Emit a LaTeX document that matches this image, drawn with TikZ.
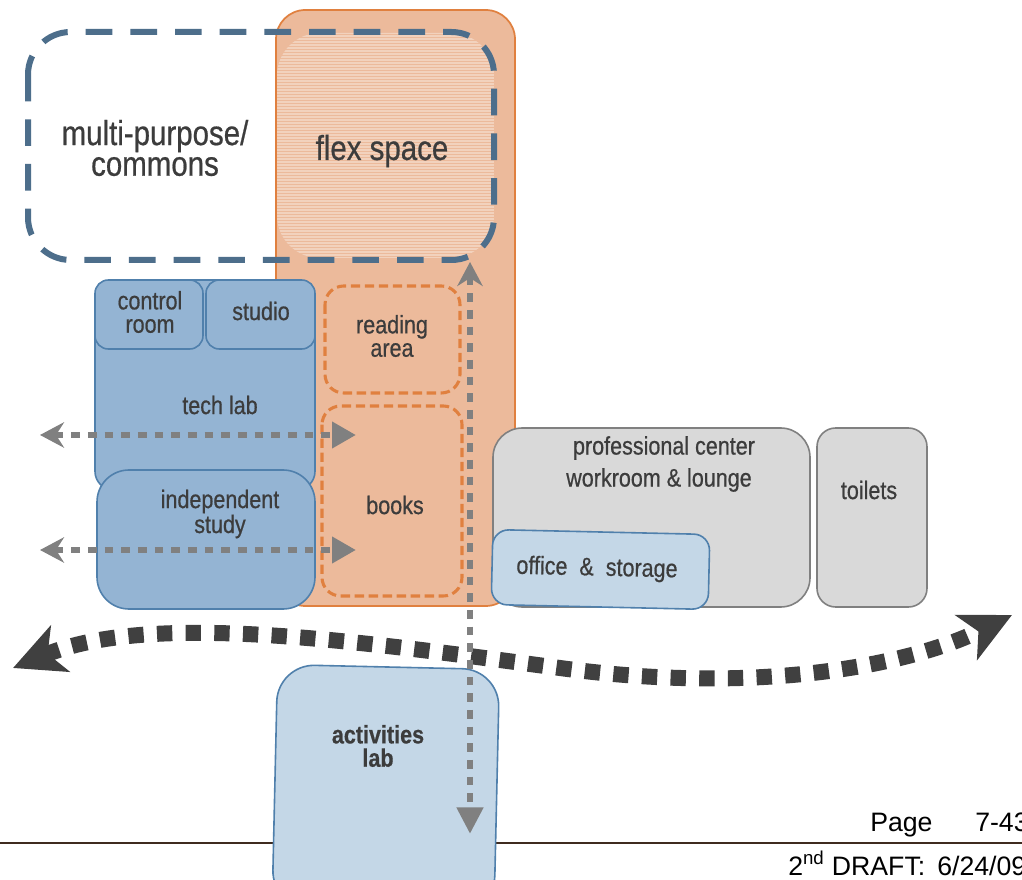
\documentclass[tikz,border=0pt]{standalone}
\usepackage{fontspec}
\setmainfont{Liberation Sans}
\newfontfamily\narrowf[FakeStretch=0.85,FakeBold=0.6]{Liberation Sans}
\usetikzlibrary{arrows.meta}
\definecolor{orfill}{HTML}{ECBA9B}
\definecolor{orline}{HTML}{E0803F}
\definecolor{bluedash}{HTML}{4D6E8B}
\definecolor{techfill}{HTML}{94B4D3}
\definecolor{techline}{HTML}{5080AC}
\definecolor{lightfill}{HTML}{C4D7E7}
\definecolor{grayfill}{HTML}{D9D9D9}
\definecolor{grayline}{HTML}{808080}
\definecolor{arrgray}{HTML}{808080}
\definecolor{darkarr}{HTML}{404040}
\definecolor{txt}{HTML}{3C3C3C}
\definecolor{rulecol}{HTML}{3F2B1F}
\tikzset{
  lefttip/.tip={Stealth[length=18pt,width=19pt,inset=6pt,fill=arrgray]},
  righttip/.tip={Triangle[length=18pt,width=19pt,fill=arrgray]},
  downtip/.tip={Triangle[length=20pt,width=19pt,fill=arrgray]},
  bigtip/.tip={Stealth[length=38pt,width=37pt,inset=10pt,fill=darkarr]}
}
\begin{document}
\begin{tikzpicture}[x=0.75pt,y=-0.75pt,
  orbox/.style={fill=orfill,draw=orline,line width=1.3pt,rounded corners=22pt},
  ordash/.style={draw=orline,line width=2.3pt,dash pattern=on 7pt off 3.5pt,rounded corners=14pt},
  bluedashed/.style={draw=bluedash,line width=4.5pt,dash pattern=on 20pt off 13.5pt,rounded corners=32pt},
  techbox/.style={fill=techfill,draw=techline,line width=1.2pt},
  lightbox/.style={fill=lightfill,draw=techline,line width=1.2pt},
  graybox/.style={fill=grayfill,draw=grayline,line width=1.2pt,rounded corners=16pt},
  grayarrow/.style={draw=arrgray,line width=5.2pt,dash pattern=on 6.5pt off 6pt},
  lbl/.style={font=\narrowf\fontsize{19}{17.5}\selectfont,text=txt,align=center,inner sep=0pt},
  biglbl/.style={font=\narrowf\fontsize{26}{23}\selectfont,text=txt,align=center,inner sep=0pt},
  footlbl/.style={font=\fontsize{20}{22}\selectfont,text=black,anchor=base west,inner sep=0pt}
]
\useasboundingbox (0,0) rectangle (1022,880);
\fill[white] (0,0) rectangle (1022,880);

% flex space (orange)
\draw[orbox] (276,10) rectangle (515,606);
\begin{scope}
  \clip[rounded corners=32pt] (277,33) -- (494,33) -- (494,258) -- (277,258) -- cycle;
  \clip (277,33) rectangle (494,258);
  \foreach \yy in {33,36,...,258} \draw[white,opacity=0.35,line width=0.8pt] (276,\yy) -- (495,\yy);
\end{scope}

% multi-purpose dashed region
\draw[bluedashed] (28,32) rectangle (494,260);

% reading area and books
\draw[ordash] (325,286) rectangle (460,393);
\draw[ordash] (322,406) rectangle (462,596);

% tech lab group
\draw[techbox,rounded corners=14pt] (95,280) rectangle (315,490);
\draw[techbox,rounded corners=10pt] (95,280) rectangle (203,349);
\draw[techbox,rounded corners=10pt] (206,280) rectangle (315,349);
\draw[techbox,rounded corners=24pt] (97,470) rectangle (315,609);

% professional center, toilets, office
\draw[graybox,rounded corners=22pt] (493,428) rectangle (810,607);
\draw[graybox,rounded corners=14pt] (817,428) rectangle (927,607);
\draw[lightbox,rounded corners=12pt,rotate around={-1.3:(600,570)}] (492,532) rectangle (709,607);

% page rule
\draw[rulecol,line width=1.5pt] (0,843) -- (1022,843);

% activities lab
\draw[lightbox,rounded corners=28pt,rotate around={-1.3:(386,780)}] (275,667) rectangle (497,910);

% big circulation arrow
\coordinate (cl) at (13,668);
\coordinate (cm) at (560,668);
\coordinate (cr) at (1012,615);
\draw[darkarr,line width=12pt,dash pattern=on 11.5pt off 10pt,{bigtip}-{bigtip}]
  (cl) .. controls (150,612) and (350,640) .. (cm) .. controls (760,695) and (910,665) .. (cr);

% gray dotted arrows
\coordinate (h1l) at (40,435);
\coordinate (h1r) at (356,435);
\coordinate (h2l) at (40,550);
\coordinate (h2r) at (356,550);
\coordinate (vt) at (470,262);
\coordinate (vb) at (470,834);
\draw[grayarrow,{lefttip}-{righttip}] (h1l) -- (h1r);
\draw[grayarrow,{lefttip}-{righttip}] (h2l) -- (h2r);
\draw[grayarrow,{lefttip}-{downtip}] (vt) -- (vb);

% labels
\node[biglbl] (mp) at (155,148) {multi-purpose/\\commons};
\node[biglbl] (fs) at (382,151) {flex space};
\node[lbl] (cr1) at (150,312) {control\\room};
\node[lbl] (st) at (261,311) {studio};
\node[lbl] (tl) at (220,405) {tech lab};
\node[lbl] (ra) at (392,336) {reading\\area};
\node[lbl] (bk) at (395,505) {books};
\node[lbl] (is) at (220,514) {independent\\study};
\node[lbl] (pc) at (664,448) {professional center};
\node[lbl] (wl) at (659,480) {workroom \& lounge};
\node[lbl] (to) at (869,490) {toilets};
\node[lbl,rotate=-1.3] (os) at (597,569) {office\ \ \&\ \ storage};
\node[lbl,font=\narrowf\bfseries\fontsize{19}{17.5}\selectfont] (al) at (378,746) {activities\\lab};
\node[footlbl] (pg) at (870,831) {Page};
\node[footlbl] (pn) at (975,831) {7-43};
\node[footlbl] (dr) at (788,875) {2\textsuperscript{nd} DRAFT:};
\node[footlbl] (dt) at (937,875) {6/24/09};
\end{tikzpicture}
\end{document}
